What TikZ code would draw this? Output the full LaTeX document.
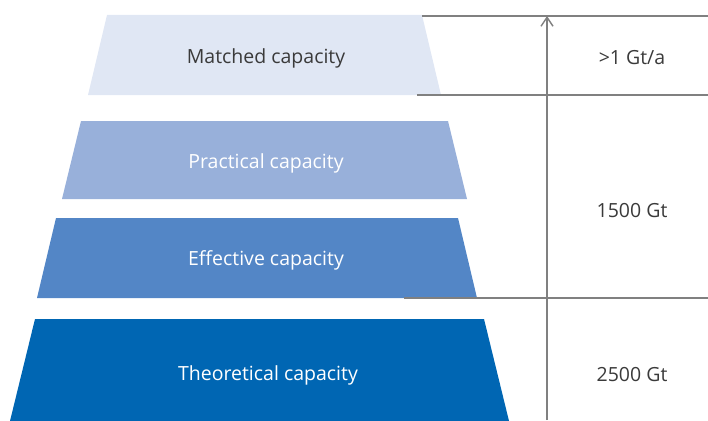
\documentclass[tikz,border=0pt]{standalone}
\usepackage{fontspec}
\setmainfont{Open Sans}
\usetikzlibrary{arrows.meta}
\definecolor{cMatch}{HTML}{E0E7F4}
\definecolor{cPract}{HTML}{98B0DA}
\definecolor{cEff}{HTML}{5386C6}
\definecolor{cTheo}{HTML}{0066B3}
\definecolor{cLine}{HTML}{808080}
\definecolor{cText}{HTML}{3A3A3A}
\begin{document}
\begin{tikzpicture}[x=1pt,y=-1pt,
  lbl/.style={font=\fontsize{19.5}{22}\selectfont, inner sep=0pt},
  val/.style={font=\fontsize{19.5}{22}\selectfont, inner sep=0pt, text=cText},
  rule/.style={draw=cLine, line width=1.4pt}]
\useasboundingbox (0,0) rectangle (708,420);
% trapezoids
\fill[cMatch] (107,15) -- (422,15) -- (441,95) -- (88,95) -- cycle;
\fill[cPract] (81,121) -- (448,121) -- (467,199) -- (62,199) -- cycle;
\fill[cEff] (56,218) -- (458,218) -- (477,298) -- (37,298) -- cycle;
\fill[cTheo] (35,319) -- (484,319) -- (509,421) -- (10,421) -- cycle;
% labels
\node[lbl, text=cText] (m) at (266,58) {Matched capacity};
\node[lbl, text=white] (p) at (266,163) {Practical capacity};
\node[lbl, text=white] (e) at (266,260) {Effective capacity};
\node[lbl, text=white] (t) at (268,375) {Theoretical capacity};
% rules
\coordinate (r1a) at (422,16); \coordinate (r1b) at (708,16);
\coordinate (r2a) at (417,95); \coordinate (r2b) at (708,95);
\coordinate (r3a) at (404,298); \coordinate (r3b) at (708,298);
\draw[rule] (r1a) -- (r1b);
\draw[rule] (r2a) -- (r2b);
\draw[rule] (r3a) -- (r3b);
\coordinate (ab) at (547,420); \coordinate (at) at (547,16);
\draw[rule, -{Straight Barb[length=9pt,width=12pt]}] (ab) -- (at);
% values
\node[val] (v1) at (632,58) {>1 Gt/a};
\node[val] (v2) at (632,211) {1500 Gt};
\node[val] (v3) at (632,375) {2500 Gt};
\end{tikzpicture}
\end{document}
